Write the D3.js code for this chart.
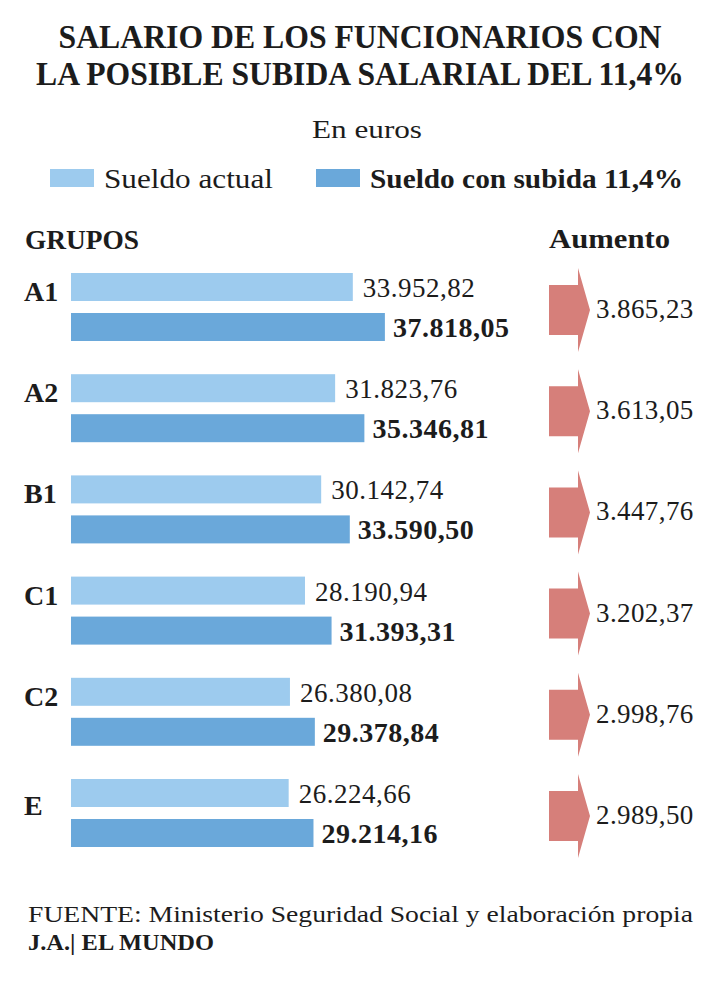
<!DOCTYPE html>
<html>
<head>
<meta charset="utf-8">
<script src="https://cdn.jsdelivr.net/npm/d3@7"></script>
<style>
  body { margin: 0; background: #fff; }
  svg text { font-family: "Liberation Serif", "Times New Roman", serif; fill: #1c1c1c; }
</style>
</head>
<body>
<svg id="chart"></svg>
<script>
// Data
const groups = ["A1", "A2", "B1", "C1", "C2", "E"];
const actual = [33952.82, 31823.76, 30142.74, 28190.94, 26380.08, 26224.66];
const subida = [37818.05, 35346.81, 33590.50, 31393.31, 29378.84, 29214.16];
const aumento = [3865.23, 3613.05, 3447.76, 3202.37, 2998.76, 2989.50];

const width = 720;
const height = 994;
const lightColor = "#9dcbee";
const darkColor = "#6aa8da";
const arrowColor = "#d67f7a";

const es = d3.formatLocale({ decimal: ",", thousands: ".", grouping: [3], currency: ["", " €"] });
const fmt = es.format(",.2f");

const svg = d3.select("#chart")
    .attr("width", width)
    .attr("height", height);

svg.append("rect").attr("width", width).attr("height", height).attr("fill", "#fff");

// Title (smaller font, stretched vertically so it fits the width)
const titleLines = [
    { t: "SALARIO DE LOS FUNCIONARIOS CON", y: 48, w: 603 },
    { t: "LA POSIBLE SUBIDA SALARIAL DEL 11,4%", y: 85, w: 648 }
];
svg.selectAll(".title")
    .data(titleLines)
    .enter()
    .append("text")
    .attr("class", "title")
    .attr("transform", d => `translate(360,${d.y}) scale(1,1.15)`)
    .attr("text-anchor", "middle")
    .attr("font-size", 30)
    .attr("font-weight", "bold")
    .attr("textLength", d => d.w)
    .attr("lengthAdjust", "spacingAndGlyphs")
    .text(d => d.t);

svg.append("text")
    .attr("x", 367)
    .attr("y", 138)
    .attr("text-anchor", "middle")
    .attr("font-size", 25)
    .attr("textLength", 110)
    .attr("lengthAdjust", "spacingAndGlyphs")
    .text("En euros");

// Legend
const legend = [
    { label: "Sueldo actual", color: lightColor, x: 50, bold: false, w: 169 },
    { label: "Sueldo con subida 11,4%", color: darkColor, x: 316, bold: true, w: 313 }
];
const lg = svg.selectAll(".legend")
    .data(legend)
    .enter()
    .append("g")
    .attr("class", "legend")
    .attr("transform", d => `translate(${d.x},169)`);
lg.append("rect")
    .attr("width", 44)
    .attr("height", 18)
    .attr("fill", d => d.color);
lg.append("text")
    .attr("x", 54)
    .attr("y", 19)
    .attr("font-size", 27)
    .attr("font-weight", d => d.bold ? "bold" : "normal")
    .attr("textLength", d => d.w)
    .attr("lengthAdjust", "spacingAndGlyphs")
    .text(d => d.label);

// Column headers
svg.append("text")
    .attr("x", 25).attr("y", 249)
    .attr("font-size", 27).attr("font-weight", "bold")
    .attr("textLength", 114).attr("lengthAdjust", "spacingAndGlyphs")
    .text("GRUPOS");
svg.append("text")
    .attr("x", 549).attr("y", 248)
    .attr("font-size", 27).attr("font-weight", "bold")
    .attr("textLength", 121).attr("lengthAdjust", "spacingAndGlyphs")
    .text("Aumento");

// Scales
const x = d3.scaleLinear()
    .domain([0, 40000])
    .range([71, 71 + 332]);

const y = d3.scaleBand()
    .domain(groups)
    .range([273, 273 + 6 * 101.2]);

const barH = 28;
const barGap = 40;

const rows = groups.map((g, i) => ({ g, a: actual[i], s: subida[i], up: aumento[i] }));

const row = svg.selectAll(".row")
    .data(rows)
    .enter()
    .append("g")
    .attr("class", "row");

// Group labels
row.append("text")
    .attr("x", 24)
    .attr("y", d => y(d.g) + barH + (d.g === "E" ? 8 : 0))
    .attr("font-size", 28)
    .attr("font-weight", "bold")
    .text(d => d.g);

// Bars
row.append("rect")
    .attr("x", x(0))
    .attr("y", d => y(d.g))
    .attr("width", d => x(d.a) - x(0))
    .attr("height", barH)
    .attr("fill", lightColor);

row.append("rect")
    .attr("x", x(0))
    .attr("y", d => y(d.g) + barGap)
    .attr("width", d => x(d.s) - x(0))
    .attr("height", barH)
    .attr("fill", darkColor);

// Value labels
row.append("text")
    .attr("x", d => x(d.a) + 10)
    .attr("y", d => y(d.g) + 24)
    .attr("font-size", 27)
    .attr("letter-spacing", 0.5)
    .text(d => fmt(d.a));

row.append("text")
    .attr("x", d => x(d.s) + 8)
    .attr("y", d => y(d.g) + barGap + 24)
    .attr("font-size", 28)
    .attr("font-weight", "bold")
    .attr("letter-spacing", 0.5)
    .text(d => fmt(d.s));

// Aumento arrows
const arrow = d => {
    const c = y(d.g) + 37;
    return `M549,${c - 25} L578,${c - 25} L578,${c - 42} L590,${c} L578,${c + 42} L578,${c + 25} L549,${c + 25} Z`;
};
row.append("path")
    .attr("d", arrow)
    .attr("fill", arrowColor);

row.append("text")
    .attr("x", 596)
    .attr("y", d => y(d.g) + 45)
    .attr("font-size", 27)
    .attr("letter-spacing", 0.4)
    .text(d => fmt(d.up));

// Footer
svg.append("text")
    .attr("x", 28).attr("y", 922)
    .attr("font-size", 23)
    .attr("textLength", 665).attr("lengthAdjust", "spacingAndGlyphs")
    .text("FUENTE: Ministerio Seguridad Social y elaboración propia");
svg.append("text")
    .attr("x", 28).attr("y", 950)
    .attr("font-size", 23).attr("font-weight", "bold")
    .attr("textLength", 186).attr("lengthAdjust", "spacingAndGlyphs")
    .text("J.A.| EL MUNDO");
</script>
</body>
</html>
